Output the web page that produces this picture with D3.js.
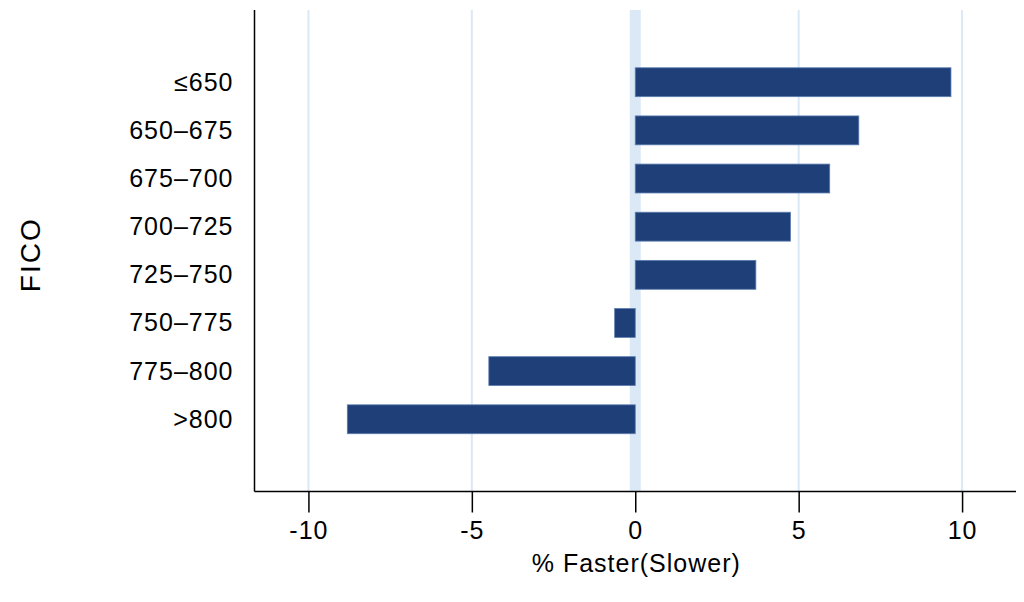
<!DOCTYPE html>
<html>
<head>
<meta charset="utf-8">
<script src="https://cdn.jsdelivr.net/npm/d3@7"></script>
<style>
  html, body { margin: 0; padding: 0; background: #fff; }
  svg { display: block; }
  text { font-family: "Liberation Sans", Arial, sans-serif; fill: #000; }
</style>
</head>
<body>
<svg id="chart" width="1024" height="602"></svg>
<script>
const categories = ["≤650", "650–675", "675–700", "700–725", "725–750", "750–775", "775–800", ">800"];
const values = [9.66, 6.84, 5.95, 4.75, 3.69, -0.63, -4.48, -8.81];
const xTicks = [-10, -5, 0, 5, 10];
const xTitle = "% Faster(Slower)";
const yTitle = "FICO";

(function () {
const svg = d3.select("#chart");
const pL = 254.5, pR = 1016, pT = 10, pB = 491.5;

const x = d3.scaleLinear().domain([-11.65, 11.65]).range([pL, pR]);
const y = d3.scalePoint().domain(categories).range([pT, pB]).padding(1.5);
const barH = y.step() * 0.6;

// gridlines
svg.append("g").selectAll("line").data(xTicks.filter(d => d !== 0)).join("line")
  .attr("x1", d => x(d)).attr("x2", d => x(d))
  .attr("y1", pT).attr("y2", pB)
  .attr("stroke", "#dbe8f6").attr("stroke-width", 2);
// zero band
svg.append("line")
  .attr("x1", x(0)).attr("x2", x(0)).attr("y1", pT).attr("y2", pB)
  .attr("stroke", "#dbe8f6").attr("stroke-width", 11);

// bars
const data = categories.map((c, i) => ({ c, v: values[i] }));
svg.append("g").selectAll("rect").data(data).join("rect")
  .attr("x", d => x(Math.min(0, d.v)))
  .attr("width", d => Math.abs(x(d.v) - x(0)))
  .attr("y", d => y(d.c) - barH / 2)
  .attr("height", barH)
  .attr("fill", "#1e3f78")
  .attr("stroke", "#5b7db0").attr("stroke-width", 0.8);

// x axis
const xAxis = svg.append("g").attr("transform", `translate(0,${pB})`)
  .call(d3.axisBottom(x).tickValues(xTicks).tickSize(21).tickPadding(9).tickFormat(d3.format("d")));
xAxis.select(".domain").attr("stroke", "#000").attr("stroke-width", 1.5).attr("d", `M${pL},0H${pR}`);
xAxis.selectAll(".tick line").attr("stroke", "#000").attr("stroke-width", 1.5);
xAxis.selectAll(".tick text").attr("font-size", 25).attr("letter-spacing", 1)
  .attr("font-family", "Liberation Sans, Arial, sans-serif").attr("fill", "#000")
  .text(d => d < 0 ? "-" + Math.abs(d) : d);

// y axis
const yAxis = svg.append("g").attr("transform", `translate(${pL},0)`)
  .call(d3.axisLeft(y).tickSize(0).tickPadding(21));
yAxis.select(".domain").attr("stroke", "#000").attr("stroke-width", 1.5).attr("d", `M0,${pT}V${pB}`);
yAxis.selectAll(".tick text").attr("font-size", 25).attr("letter-spacing", 1)
  .attr("font-family", "Liberation Sans, Arial, sans-serif").attr("fill", "#000");

// titles
svg.append("text").attr("x", (pL + pR) / 2 + 1).attr("y", 572)
  .attr("text-anchor", "middle").attr("font-size", 25).attr("letter-spacing", 1).text(xTitle);
svg.append("text").attr("transform", `translate(40,${(pT + pB) / 2 + 4}) rotate(-90)`)
  .attr("text-anchor", "middle").attr("font-size", 28).attr("letter-spacing", 2).text(yTitle);
})();
</script>
</body>
</html>
